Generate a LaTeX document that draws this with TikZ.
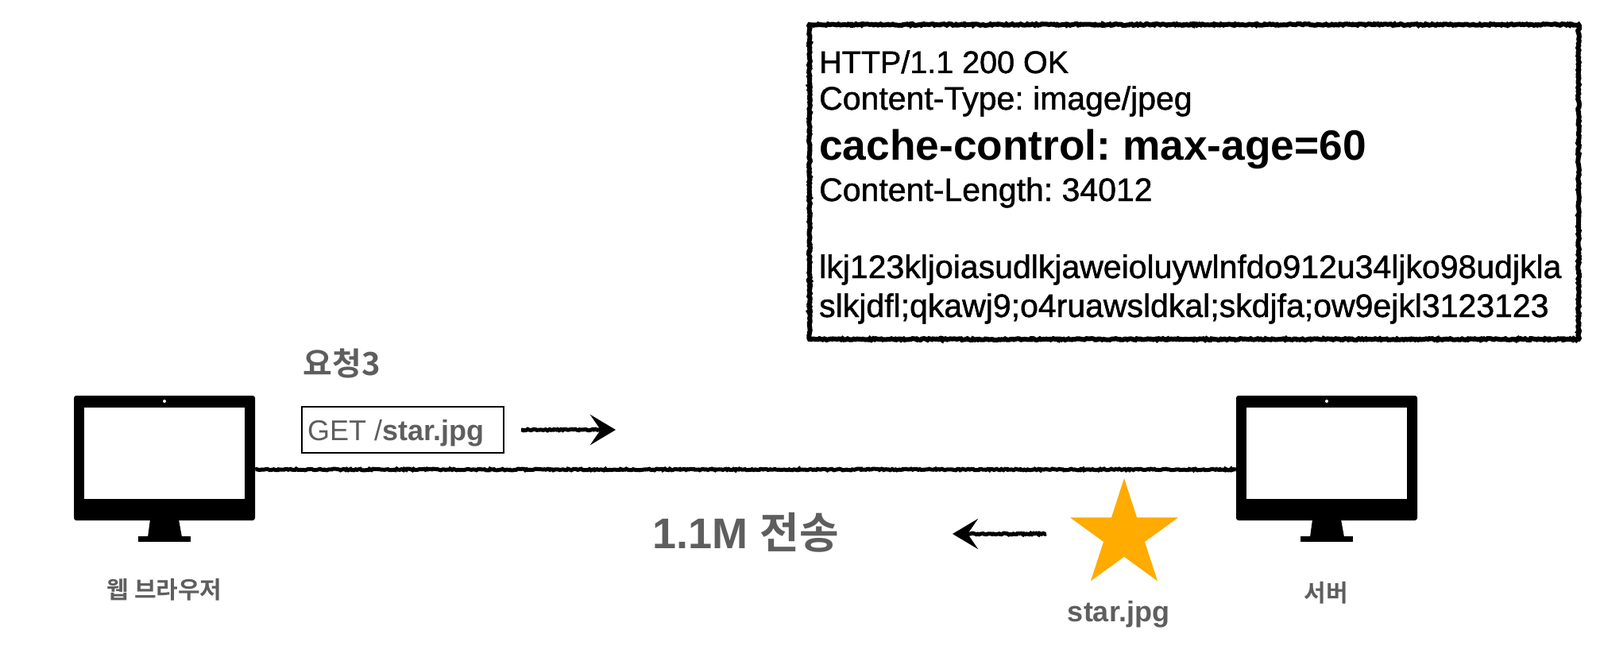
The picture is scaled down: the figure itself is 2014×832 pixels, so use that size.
\documentclass[tikz,border=0pt]{standalone}
\usepackage{fontspec}
\setmainfont{Liberation Sans}
\newfontfamily\heavyfont{Liberation Sans}[FakeBold=1.2]
\newfontfamily\krfont{Noto Sans CJK KR}[BoldFont={Noto Sans CJK KR Bold}]
\usetikzlibrary{arrows.meta,decorations.pathmorphing,shapes.geometric}
\definecolor{labelgray}{HTML}{5E5E5E}
\definecolor{stargold}{HTML}{FFAB00}
\begin{document}
\frenchspacing
\begin{tikzpicture}
[x=1pt,y=-1pt,
 monitor/.style={rectangle,rounded corners=3pt,fill=black,inner sep=0pt,minimum width=228pt,minimum height=157pt},
 screen/.style={rectangle,fill=white,inner sep=0pt,minimum width=202pt,minimum height=115pt},
 lens/.style={circle,fill=white,inner sep=0pt,minimum size=4pt},
 foot/.style={rectangle,fill=black,inner sep=0pt,minimum width=66pt,minimum height=7pt},
 rough/.style={black,decorate,decoration={random steps,segment length=2pt,amplitude=.9pt}},
 wire/.style={rough,line width=5pt},
 flow/.style={black,line width=5pt,decorate,decoration={random steps,segment length=2pt,amplitude=.9pt,post length=8pt},-{Stealth[length=32pt,width=38pt,inset=13pt]}},
 head/.style={anchor=base west,inner sep=0pt,font=\fontsize{41}{47}\heavyfont},
 big/.style={anchor=base west,inner sep=0pt,font=\fontsize{53.3}{60}\selectfont\bfseries},
 gray/.style={inner sep=0pt,text=labelgray}]
\useasboundingbox (0,0) rectangle (2014,832);
\draw[rough,line width=6pt,fill=white] (1019,31) rectangle (1987,427);
\node[head,font=\fontsize{39.5}{47}\heavyfont] (status) at (1031,92) {HTTP/1.1 200 OK};
\node[head] (ctype) at (1031,138) {Content-Type: image/jpeg};
\node[big] (cache) at (1031,201) {cache-control: max-age=60};
\node[head] (clength) at (1031,253) {Content-Length: 34012};
\node[head] (body1) at (1031,350) {lkj123kljoiasudlkjaweioluywlnfdo912u34ljko98udjkla};
\node[head] (body2) at (1031,399) {slkjdfl;qkawj9;o4ruawsldkal;skdjfa;ow9ejkl3123123};
\node[monitor] (browser) at (207,576.5) {};
\node[screen] (browserscreen) at (207,570.5) {};
\node[lens] (browserlens) at (207,505) {};
\fill (189,654) -- (225,654) -- (229,676) -- (186,676) -- cycle;
\node[foot] (browserfoot) at (207,678.5) {};
\node[monitor] (server) at (1670,576.5) {};
\node[screen] (serverscreen) at (1670,570.5) {};
\node[lens] (serverlens) at (1670,505) {};
\fill (1652,654) -- (1688,654) -- (1692,676) -- (1649,676) -- cycle;
\node[foot] (serverfoot) at (1670,678.5) {};
\draw[wire] ([yshift=-14.5pt]browser.east) -- ([yshift=-14.5pt]server.west);
\node[gray,font=\fontsize{40}{47}\selectfont\krfont\bfseries] (reqlabel) at (430,457) {요청3};
\node[draw=black,line width=2.5pt,minimum width=254pt,minimum height=58pt,inner sep=0pt] (reqbox) at (507,541) {};
\node[gray,anchor=west,font=\fontsize{36}{42}\selectfont] (reqtext) at (387,545) {GET /\textbf{star.jpg}};
\coordinate (reqtail) at (656,541);
\coordinate (reqtip) at (775,541);
\draw[flow] (reqtail) -- (reqtip);
\node[gray,font=\fontsize{54}{60}\selectfont\bfseries] (sizelabel) at (939,670) {1.1M {\krfont 전송}};
\coordinate (restail) at (1317,672);
\coordinate (restip) at (1199,672);
\draw[flow] (restail) -- (restip);
\node[star,star points=5,star point ratio=2.618,fill=stargold,inner sep=0pt,minimum size=143pt] (star) at (1415,673.5) {};
\node[gray,font=\fontsize{36}{42}\selectfont\bfseries] (starlabel) at (1408,773) {star.jpg};
\node[gray,font=\fontsize{30}{34}\selectfont\krfont\bfseries] (browserlabel) at (207,742) {웹 브라우저};
\node[gray,font=\fontsize{30}{34}\selectfont\krfont\bfseries] (serverlabel) at (1669,746) {서버};
\end{tikzpicture}
\end{document}
